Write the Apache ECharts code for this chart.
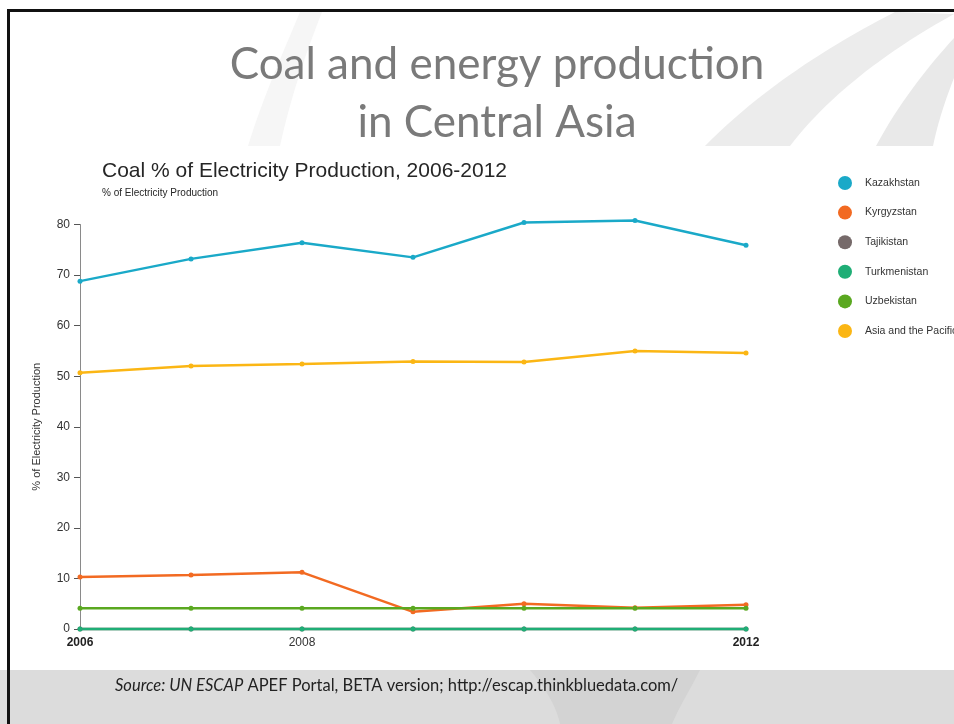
<!DOCTYPE html>
<html>
<head>
<meta charset="utf-8">
<style>
  html, body { margin: 0; padding: 0; background: #ffffff; }
  #chart { width: 954px; height: 724px; }
</style>
<script src="https://cdn.jsdelivr.net/npm/echarts@6/dist/echarts.min.js"></script>
</head>
<body>
<div id="chart"></div>
<script>
// Years on the horizontal axis
const years = ['2006', '2007', '2008', '2009', '2010', '2011', '2012'];

// Coal share of electricity production (%)
const kazakhstan   = [68.8, 73.2, 76.4, 73.5, 80.4, 80.8, 75.9];
const kyrgyzstan   = [10.3, 10.7, 11.2, 3.4, 5.0, 4.2, 4.8];
const tajikistan   = [0, 0, 0, 0, 0, 0, 0];
const turkmenistan = [0, 0, 0, 0, 0, 0, 0];
const uzbekistan   = [4.1, 4.1, 4.1, 4.1, 4.1, 4.1, 4.1];
const asiaPacific  = [50.7, 52.0, 52.4, 52.9, 52.8, 55.0, 54.6];

// Year labels shown under the axis (b = bold, n = normal)
const shownYears = { '2006': 'b', '2008': 'n', '2012': 'b' };

const seriesDefs = [
  { name: 'Kazakhstan', data: kazakhstan, color: '#1aa9c8' },
  { name: 'Kyrgyzstan', data: kyrgyzstan, color: '#f26a22' },
  { name: 'Tajikistan', data: tajikistan, color: '#766a6a' },
  { name: 'Turkmenistan', data: turkmenistan, color: '#1fae76' },
  { name: 'Uzbekistan', data: uzbekistan, color: '#5aa820' },
  { name: 'Asia and the Pacific', data: asiaPacific, color: '#fbb614' }
];

// Sample a cubic bezier into polygon points (for the decorative swooshes)
function bez(p0, p1, p2, p3, n) {
  const pts = [];
  for (let i = 0; i <= n; i++) {
    const t = i / n, u = 1 - t;
    pts.push([
      u*u*u*p0[0] + 3*u*u*t*p1[0] + 3*u*t*t*p2[0] + t*t*t*p3[0],
      u*u*u*p0[1] + 3*u*u*t*p1[1] + 3*u*t*t*p2[1] + t*t*t*p3[1]
    ]);
  }
  return pts;
}
function band(a, b) {
  return a.concat(b.slice().reverse());
}

const chart = echarts.init(document.getElementById('chart'), null, { renderer: 'canvas' });

const FONT = '"Liberation Sans", Arial, sans-serif';
const SLIDE_FONT = 'Lato, "Open Sans", sans-serif';
const headStyle = { fontFamily: SLIDE_FONT, fontSize: 44, fill: '#7a7a7a' };

const option = {
  backgroundColor: '#ffffff',
  animation: false,
  graphic: [
    // slide decoration: soft grey swooshes behind the heading
    { type: 'polygon', z: -10, silent: true,
      shape: { points: band(bez([248,146],[262,100],[282,55],[300,12],16), bez([280,146],[290,100],[305,55],[322,12],16)) },
      style: { fill: '#f6f6f6' } },
    { type: 'polygon', z: -10, silent: true,
      shape: { points: band(bez([705,146],[760,90],[830,45],[895,12],24), bez([790,146],[825,100],[880,55],[954,14],24)) },
      style: { fill: '#ececec' } },
    { type: 'polygon', z: -10, silent: true,
      shape: { points: band(bez([876,146],[898,105],[925,70],[954,38],16), bez([933,146],[938,122],[946,98],[954,78],16)) },
      style: { fill: '#e9e9e9' } },
    // footer band
    { type: 'rect', z: -10, silent: true, shape: { x: 0, y: 670, width: 954, height: 54 },
      style: { fill: '#dcdcdc' } },
    { type: 'polygon', z: -9, silent: true,
      shape: { points: band(bez([530,670],[545,688],[556,705],[560,724],10), bez([700,670],[690,690],[680,705],[672,724],10)) },
      style: { fill: '#d3d3d3' } },
    // slide frame
    { type: 'rect', z: 10, silent: true, shape: { x: 7, y: 9, width: 960, height: 3 }, style: { fill: '#111111' } },
    { type: 'rect', z: 10, silent: true, shape: { x: 7, y: 9, width: 3, height: 720 }, style: { fill: '#111111' } },
    // slide heading; "tion" is a separate rich token so "ti" stays two glyphs
    { type: 'text', z: 5, silent: true, x: 497, y: 65,
      style: Object.assign({ text: 'Coal and energy produc{s|tion}', align: 'center', verticalAlign: 'middle',
        rich: { s: Object.assign({}, headStyle) } }, headStyle) },
    { type: 'text', z: 5, silent: true, x: 497, y: 123,
      style: Object.assign({ text: 'in Central Asia', align: 'center', verticalAlign: 'middle' }, headStyle) }
  ],
  title: [
    {
      text: 'Coal % of Electricity Production, 2006-2012',
      subtext: '% of Electricity Production',
      left: 102, top: 161,
      itemGap: 6,
      padding: 0,
      textStyle: { fontFamily: FONT, fontSize: 21, fontWeight: 'normal', color: '#262626' },
      subtextStyle: { fontFamily: FONT, fontSize: 10, color: '#262626' }
    },
    {
      text: '{i|Source: UN ESCAP} APEF Portal, BETA version; http://escap.thinkbluedata.com/',
      left: 115, top: 677,
      padding: 0,
      textStyle: {
        fontFamily: SLIDE_FONT, fontSize: 16.5, fontWeight: 'normal', color: '#222222',
        rich: { i: { fontFamily: SLIDE_FONT, fontSize: 16.5, fontStyle: 'italic', color: '#222222' } }
      }
    }
  ],
  legend: {
    orient: 'vertical',
    left: 838, top: 176,
    icon: 'circle',
    itemWidth: 14, itemHeight: 14,
    itemGap: 15.6,
    padding: 0,
    textStyle: { fontFamily: FONT, fontSize: 10.5, color: '#333333', padding: [0, 0, 0, 8] },
    data: seriesDefs.map(s => s.name)
  },
  grid: { left: 80, right: 208, top: 224.5, bottom: 95, containLabel: false },
  xAxis: {
    type: 'category',
    data: years,
    boundaryGap: false,
    axisLine: { show: false },
    axisTick: { show: false },
    splitLine: { show: false },
    axisLabel: {
      interval: 0,
      margin: 8,
      formatter: v => shownYears[v] ? '{' + shownYears[v] + '|' + v + '}' : '',
      rich: {
        b: { fontFamily: FONT, fontSize: 12, fontWeight: 'bold', color: '#222222' },
        n: { fontFamily: FONT, fontSize: 12, color: '#333333' }
      }
    }
  },
  yAxis: {
    type: 'value',
    min: 0, max: 80, interval: 10,
    name: '% of Electricity Production',
    nameLocation: 'middle',
    nameGap: 38,
    nameTextStyle: { fontFamily: FONT, fontSize: 11, color: '#333333' },
    axisLine: { show: true, lineStyle: { color: '#8a8a8a', width: 1 } },
    axisTick: { show: true, length: 6, lineStyle: { color: '#555555' } },
    splitLine: { show: false },
    axisLabel: { fontFamily: FONT, fontSize: 12, color: '#333333', margin: 10 }
  },
  series: seriesDefs.map(s => ({
    name: s.name,
    type: 'line',
    data: s.data,
    color: s.color,
    clip: false,
    symbol: 'circle',
    symbolSize: 5,
    lineStyle: { width: 2.5, color: s.color },
    itemStyle: { color: s.color }
  }))
};

chart.setOption(option);
</script>
</body>
</html>
